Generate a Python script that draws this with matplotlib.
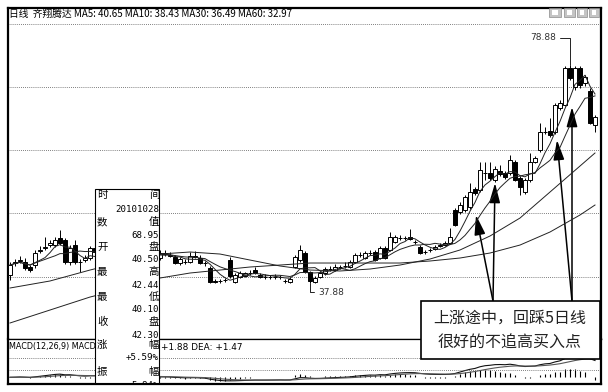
import numpy as np
import pandas as pd
import matplotlib
matplotlib.use('Agg')
import matplotlib.pyplot as plt
from matplotlib.patches import Rectangle

plt.rcParams['font.family'] = ['Noto Sans CJK SC', 'DejaVu Sans']

# Daily bars of 齐翔腾达, oldest first
opens = [39.38, 41.64, 42.02, 41.83, 40.89, 41.26, 43.90, 44.46, 45.02, 45.02,
         46.34, 45.97, 41.83, 45.02, 41.83, 42.20, 42.58, 44.46, 43.71, 44.27,
         43.52, 44.09, 43.33, 43.90, 43.14, 43.71, 42.96, 43.52, 42.77, 43.33,
         42.58, 43.52, 43.14, 42.77, 41.64, 41.83, 41.83, 42.96, 42.58, 41.64,
         40.70, 38.25, 38.25, 38.44, 42.20, 38.07, 39.01, 39.19, 39.76, 40.32,
         39.38, 39.01, 38.96, 39.01, 38.96, 38.30, 38.07, 40.89, 42.20, 43.52,
         39.95, 38.07, 39.01, 39.76, 40.51, 40.32, 40.89, 41.08, 40.89, 41.83,
         43.14, 42.58, 43.52, 43.71, 42.58, 44.46, 44.09, 45.59, 46.34, 46.39,
         46.53, 45.59, 44.65, 43.71, 44.09, 44.27, 44.84, 45.02, 45.40, 51.61,
         51.23, 51.61, 52.17, 55.56, 55.37, 58.57, 58.57, 57.25, 58.94, 58.57,
         58.57, 60.64, 57.63, 54.99, 57.25, 60.64, 62.89, 66.28, 66.47, 66.28,
         70.79, 71.36, 78.32, 74.74, 78.32, 75.49, 73.99, 67.60]
highs = [41.83, 42.39, 42.96, 42.58, 41.26, 44.09, 44.84, 46.53, 45.97, 46.53,
         47.85, 46.34, 45.02, 45.97, 42.39, 43.14, 44.84, 45.02, 44.65, 44.84,
         44.46, 44.65, 44.27, 44.46, 44.09, 44.27, 43.90, 44.09, 43.71, 43.90,
         44.09, 44.09, 43.71, 43.14, 42.77, 42.39, 43.71, 43.90, 43.14, 42.02,
         41.08, 38.63, 38.63, 38.82, 42.77, 39.76, 40.14, 39.95, 40.32, 40.89,
         39.76, 39.57, 39.38, 39.57, 39.38, 38.63, 39.01, 43.14, 45.02, 43.90,
         40.14, 39.19, 40.14, 40.89, 41.08, 41.45, 41.26, 41.83, 42.20, 43.52,
         43.71, 43.90, 44.09, 44.09, 44.84, 44.84, 47.47, 46.91, 46.91, 46.72,
         48.03, 45.97, 45.02, 44.09, 44.46, 45.02, 45.40, 45.78, 48.22, 51.98,
         53.11, 54.43, 56.69, 55.93, 60.64, 60.64, 60.64, 59.88, 60.07, 58.94,
         61.95, 61.01, 58.00, 57.63, 62.33, 61.77, 67.97, 67.22, 68.91, 71.73,
         72.30, 78.69, 78.88, 78.69, 78.69, 77.00, 74.55, 69.48]
lows = [38.44, 41.08, 41.64, 40.32, 39.95, 40.70, 43.52, 44.09, 44.65, 44.65,
        45.02, 41.45, 41.26, 41.45, 39.95, 41.83, 42.20, 43.33, 43.14, 43.14,
        42.96, 42.96, 42.77, 42.77, 42.58, 42.58, 42.39, 42.39, 42.20, 42.20,
        42.20, 42.96, 42.77, 41.45, 41.26, 41.45, 41.64, 42.58, 41.45, 41.08,
        37.95, 37.95, 37.97, 38.10, 38.82, 37.95, 38.82, 39.01, 39.38, 39.57,
        38.82, 38.63, 38.63, 38.63, 38.63, 37.95, 37.95, 40.70, 41.83, 39.76,
        37.88, 37.95, 38.82, 39.38, 40.14, 40.14, 40.51, 40.70, 40.70, 41.64,
        42.77, 42.39, 43.14, 42.02, 42.39, 42.39, 43.90, 45.40, 45.97, 45.97,
        45.97, 45.21, 43.33, 43.33, 43.71, 44.09, 44.65, 44.84, 45.21, 48.60,
        50.86, 51.23, 51.79, 54.43, 54.99, 57.25, 57.25, 56.87, 58.00, 57.44,
        58.19, 57.06, 54.43, 54.62, 56.87, 60.45, 62.52, 65.90, 65.34, 65.90,
        70.42, 71.17, 76.06, 74.18, 74.55, 74.93, 67.78, 66.28]
closes = [41.26, 41.83, 42.20, 40.70, 40.32, 43.52, 44.09, 44.65, 45.40, 45.97,
          45.40, 41.83, 44.46, 41.83, 41.74, 42.58, 44.46, 43.71, 44.27, 43.52,
          44.09, 43.33, 43.90, 43.14, 43.71, 42.96, 43.52, 42.77, 43.33, 42.58,
          43.52, 43.33, 43.05, 41.64, 42.39, 41.74, 42.96, 42.86, 41.64, 41.55,
          38.07, 38.16, 38.20, 38.40, 39.19, 39.38, 39.76, 39.76, 39.67, 39.76,
          39.01, 38.96, 39.01, 38.96, 39.01, 38.25, 38.63, 42.77, 44.09, 39.95,
          38.25, 38.82, 39.76, 40.51, 40.46, 40.89, 40.94, 41.02, 41.83, 43.14,
          43.09, 43.52, 43.57, 42.20, 44.46, 42.58, 46.53, 46.53, 46.39, 46.34,
          46.15, 45.54, 43.52, 43.66, 44.14, 44.65, 45.02, 45.40, 46.53, 48.79,
          52.55, 54.05, 54.99, 54.80, 59.13, 58.62, 57.63, 59.32, 58.38, 57.81,
          61.01, 57.25, 55.93, 57.25, 60.64, 61.39, 66.28, 66.33, 65.71, 71.36,
          71.73, 78.32, 76.44, 78.32, 75.12, 76.62, 67.97, 69.10]

# long averages, read at these bar numbers
ma_days = [0, 8, 16, 24, 30, 36, 42, 48, 54, 60, 66, 72, 78, 84, 90, 96, 102,
           108, 114, 117]
ma30_vals = [36.94, 38.26, 40.32, 42.20, 43.33, 43.71, 43.33, 42.20, 41.08,
             40.32, 40.14, 40.51, 41.26, 42.39, 44.09, 46.72, 50.10, 54.99,
             59.88, 62.33]
ma60_vals = [30.36, 32.80, 35.24, 37.13, 38.82, 39.76, 40.32, 40.89, 41.26,
             41.64, 41.64, 41.64, 41.64, 42.02, 42.58, 43.52, 45.02, 47.47,
             50.67, 52.55]

grid_levels = [39.0, 51.0, 62.9, 74.75, 86.6]

header = '日线  齐翔腾达 MA5: 40.65 MA10: 38.43 MA30: 36.49 MA60: 32.97'
info_left = ['时', '数', '开', '最', '最', '收', '涨', '振']
info_right = ['间', '20101028', '值', '68.95', '盘', '40.50', '高', '42.44',
              '低', '40.10', '盘', '42.30', '幅', '+5.59%', '幅', '5.84%']
note_lines = ['上涨途中，回踩5日线', '很好的不追高买入点']
# pull-back points the note refers to: (bar, price)
note_targets = [(93.2, 50.67), (97.0, 56.69), (109.4, 64.77), (112.4, 70.98)]

W, H = 608, 392


def fig_box(x0, y0, x1, y1):
    # pixel box (top-left origin) -> figure fraction rect
    return [x0 / W, 1 - y1 / H, (x1 - x0) / W, (y1 - y0) / H]


def fx(x):
    return x / W


def fy(y):
    return 1 - y / H


o = np.array(opens)
h = np.array(highs)
l = np.array(lows)
c = np.array(closes)
n = len(c)
x = np.arange(n)

fig = plt.figure(figsize=(W / 100, H / 100), dpi=100)
fig.patch.set_facecolor('white')
ax = fig.add_axes(fig_box(8, 8, 601, 339))
axm = fig.add_axes(fig_box(8, 339, 601, 384), sharex=ax)

# --- candles ---
ax.vlines(x, l, h, color='black', lw=0.7, zorder=2)
for i in range(n):
    up = c[i] >= o[i]
    bottom = min(o[i], c[i])
    height = max(abs(c[i] - o[i]), 0.04)
    ax.add_patch(Rectangle((i - 0.35, bottom), 0.7, height,
                           facecolor='white' if up else 'black',
                           edgecolor='black', lw=0.7, zorder=3))

cs = pd.Series(c)
ma5 = cs.rolling(5, min_periods=1).mean()
ma10 = cs.rolling(10, min_periods=1).mean()
ax.plot(x, ma5, color='#222222', lw=0.7, zorder=4)
ax.plot(x, ma10, color='#222222', lw=0.7, zorder=4)
ax.plot(ma_days, ma30_vals, color='#222222', lw=0.7, zorder=4)
ax.plot(ma_days, ma60_vals, color='#222222', lw=0.7, zorder=4)

ax.set_xlim(-0.4, 118.2)
ax.set_ylim(27.35, 89.60)
ax.set_yticks(grid_levels)
ax.set_xticks([])
ax.tick_params(left=False, labelleft=False, bottom=False, labelbottom=False)
ax.grid(axis='y', color='#555555', lw=0.6, ls=(0, (1, 1.5)))
for side in ax.spines:
    ax.spines[side].set_linewidth(1.6)
ax.spines['bottom'].set_linewidth(0.9)

# high / low markers
imax = int(np.argmax(h))
imin = int(np.argmin(l))
ax.annotate(f'{h[imax]:.2f}', xy=(imax, h[imax]), xytext=(-10, 19.5),
            textcoords='offset points', ha='right', va='center',
            fontsize=6.5, family='DejaVu Sans', color='#333333',
            arrowprops=dict(arrowstyle='-', lw=0.7, color='#222222',
                            shrinkA=1, shrinkB=0,
                            connectionstyle='angle,angleA=0,angleB=90,rad=0'))
ax.annotate(f'{l[imin]:.2f}', xy=(imin, l[imin]), xytext=(6, -6.5),
            textcoords='offset points', ha='left', va='center',
            fontsize=6.5, family='DejaVu Sans', color='#333333',
            arrowprops=dict(arrowstyle='-', lw=0.7, color='#222222',
                            shrinkA=1, shrinkB=0,
                            connectionstyle='angle,angleA=0,angleB=90,rad=0'))

# arrows from the note box to the pull-backs
starts = [(493, 301), (493, 301), (572, 301), (572, 301)]
for (bx, by), tgt in zip(starts, note_targets):
    ax.annotate('', xy=tgt, xytext=(fx(bx), fy(by)),
                textcoords='figure fraction',
                arrowprops=dict(arrowstyle='-|>,head_length=1.2,head_width=0.33',
                                color='black', lw=1.1, shrinkA=0, shrinkB=0,
                                mutation_scale=10))

# --- MACD(12,26,9) ---
dif = cs.ewm(span=12, adjust=False).mean() - cs.ewm(span=26, adjust=False).mean()
dea = dif.ewm(span=9, adjust=False).mean()
macd = 2 * (dif - dea)
axm.vlines(x, 0, macd, color='black', lw=0.8)
axm.plot(x, dif, color='#111111', lw=0.8)
axm.plot(x, dea, color='#555555', lw=0.8)
top = dif.max() * 40 / 22
axm.set_ylim(-top * 7 / 40, top)
axm.set_yticks([])
axm.tick_params(left=False, labelleft=False, bottom=False, labelbottom=False)
for f in (0.578, 0.311):
    axm.plot([0, 1], [f, f], transform=axm.transAxes, color='#555555',
             lw=0.6, ls=(0, (1, 1.5)))
for side in axm.spines:
    axm.spines[side].set_linewidth(1.6)
axm.spines['top'].set_linewidth(0.9)

# --- texts ---
fig.text(fx(9), fy(14), header, fontsize=7.0, va='center', ha='left')
fig.text(fx(9), fy(347), 'MACD(12,26,9) MACD', fontsize=5.8,
         family='DejaVu Sans', va='center', ha='left')
fig.text(fx(161), fy(347), '+1.88 DEA: +1.47', fontsize=6.4,
         family='DejaVu Sans', va='center', ha='left')

# toolbar buttons, top right
for bx0, bx1 in [(549, 561), (564, 575), (577, 587), (589, 599)]:
    fig.add_artist(Rectangle((fx(bx0), fy(17)), (bx1 - bx0) / W, 9 / H,
                             transform=fig.transFigure, facecolor='#c4c4c4',
                             edgecolor='#8a8a8a', lw=0.5, zorder=6))
    fig.add_artist(Rectangle((fx(bx0 + 3), fy(14.5)), (bx1 - bx0 - 6) / W,
                             4 / H, transform=fig.transFigure,
                             facecolor='white', edgecolor='none', zorder=7))

# quote window
box = Rectangle((fx(95), fy(383)), 64 / W, 194 / H, transform=fig.transFigure,
                facecolor='white', edgecolor='black', lw=0.8, zorder=10)
fig.add_artist(box)
row_y = [195, 222, 247, 272, 297, 322, 345, 372]
for s, yy in zip(info_left, row_y):
    fig.text(fx(97), fy(yy), s, fontsize=7.5, va='center', ha='left', zorder=11)
right_y = [195, 209, 222, 235, 247, 260, 272, 285, 297, 310, 322, 335, 345,
           358, 372, 386]
for s, yy in zip(info_right, right_y):
    fam = ['Noto Sans CJK SC', 'DejaVu Sans'] if not s[0].isascii() \
        else ['DejaVu Sans Mono']
    t = fig.text(fx(159), fy(yy), s, fontsize=7.5 if not s[0].isascii() else 6.6,
                 family=fam, va='center', ha='right', zorder=11)
    t.set_clip_path(box)

# note box
fig.add_artist(Rectangle((fx(421), fy(359)), 179 / W, 58 / H,
                         transform=fig.transFigure, facecolor='white',
                         edgecolor='black', lw=1.2, zorder=10))
for s, yy in zip(note_lines, [318, 343]):
    fig.text(fx(510), fy(yy), s, fontsize=11.5, color='#222222',
             va='center', ha='center', zorder=11)

fig.savefig('out.png', dpi=100, facecolor='white')
